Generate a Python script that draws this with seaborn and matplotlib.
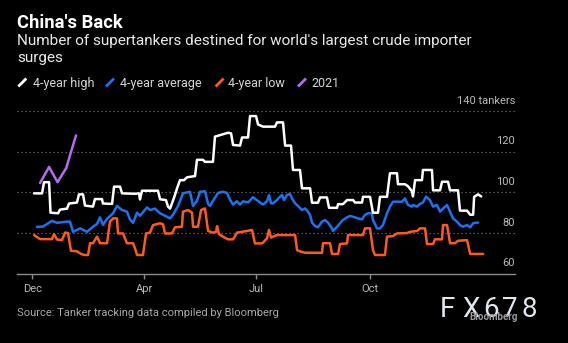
import numpy as np
import pandas as pd
import matplotlib
matplotlib.use("Agg")
import matplotlib.pyplot as plt
import seaborn as sns
from matplotlib.lines import Line2D
from matplotlib import transforms

# ---------------- data ----------------
title = "China's Back"
subtitle_lines = ["Number of supertankers destined for world's largest crude importer", "surges"]
source = "Source: Tanker tracking data compiled by Bloomberg"
series_names = ["4-year high", "4-year average", "4-year low", "2021"]
series_colors = ["#ffffff", "#1a72f2", "#ff5a1e", "#b36cf0"]
month_ticks = [0, 91, 182, 274]
month_labels = ["Dec", "Apr", "Jul", "Oct"]
y_ticks = [60, 80, 100, 120, 140]
y_unit = "tankers"

high_day = [1.4, 7.9, 9.5, 13.6, 14.8, 20.9, 22.5, 28.2, 29.8, 36.3, 37.9, 41.2, 42.8, 49.3, 50.9, 56.6,
            57.4, 64.8, 66.4, 71.3, 72.9, 83.4, 86.7, 87.5, 89.1, 102.1, 103.8, 108.6, 110.2, 111.9, 113.5,
            115.9, 117.6, 120.0, 123.3, 125.7, 132.2, 133.8, 138.7, 140.3, 146.8, 148.4, 159.0, 161.5, 163.1,
            168.8, 170.4, 175.3, 176.9, 181.8, 183.4, 187.5, 197.2, 198.8, 203.7, 205.4, 210.2, 211.8, 217.5,
            219.1, 225.7, 227.3, 232.1, 233.8, 239.4, 241.1, 247.6, 248.4, 252.4, 255.7, 260.6, 262.2, 267.9,
            268.7, 274.4, 276.8, 280.9, 282.5, 288.2, 290.6, 296.3, 297.1, 302.8, 305.3, 308.5, 309.3, 311.0,
            316.6, 317.4, 324.7, 325.6, 331.3, 332.9, 337.8, 339.4, 345.9, 347.5, 353.2, 355.8, 358.2, 359.0,
            362.2, 364.7]
high_val = [99.5, 99.5, 105, 105, 90, 89.7, 91.5, 92, 94.5, 95, 99, 99, 93.5, 93, 96.7, 96.7,
            94.5, 94.3, 102.8, 102.8, 99.5, 99.3, 99.5, 96.5, 100.8, 100.8, 96.6, 96.2, 93, 92, 94.6,
            98.7, 102, 106, 106, 107.4, 108, 116, 116, 115, 115, 127.4, 129.3, 129, 123.3,
            123, 127, 127, 137.5, 137.5, 133.4, 132.3, 132.3, 134.4, 134.4, 123, 123, 111, 111,
            102, 102, 94.9, 94.9, 97.5, 97.5, 92.4, 92.4, 94.2, 94.2, 96.2, 96.2, 95, 95,
            97.8, 97.8, 90, 90, 97.8, 97.8, 109.4, 109.4, 104, 104, 103, 100.5, 98, 106,
            106, 111, 111, 101, 101, 105.2, 105.2, 101, 101, 91, 91, 89, 89, 97.8,
            99, 98]

avg_day = [3.8, 8.7, 16.0, 20.1, 28.2, 30.6, 33.1, 38.8, 44.4, 49.3, 52.6, 55.0, 57.4, 60.7, 65.6, 68.8,
           72.9, 76.9, 79.4, 81.8, 85.1, 87.5, 93.2, 95.6, 99.7, 103.8, 109.4, 111.9, 114.3, 118.4, 122.4,
           128.1, 130.6, 133.8, 136.3, 140.3, 142.8, 144.4, 146.8, 150.9, 154.9, 158.2, 160.6, 163.1, 166.3,
           168.8, 171.2, 175.3, 179.3, 185.0, 187.5, 190.7, 192.3, 194.0, 195.6, 198.8, 201.3, 202.9, 204.5,
           207.0, 209.4, 211.0, 213.5, 215.9, 219.1, 221.6, 224.0, 225.7, 227.3, 229.7, 232.1, 235.4, 237.8,
           240.3, 243.5, 244.3, 247.6, 250.0, 252.4, 255.7, 258.1, 262.2, 264.6, 267.9, 270.3, 272.7, 276.0,
           276.8, 280.0, 282.5, 284.9, 288.2, 290.6, 293.1, 296.3, 300.4, 302.8, 305.3, 308.5, 309.3, 312.6,
           315.0, 317.4, 319.9, 323.1, 325.6, 328.8, 331.3, 333.7, 337.0, 339.4, 341.8, 345.1, 347.5, 349.9,
           353.2, 355.8, 358.2, 360.6, 362.2]
avg_val = [83, 83.2, 86, 85, 85.6, 85.6, 80.6, 82.3, 80.6, 83.1, 84.5, 87.7, 84, 87, 89.7, 93.3,
           91.3, 90.5, 86.6, 85, 90, 88.5, 92.6, 91.3, 92, 89.7, 88, 87.2, 89, 93.3, 99.5,
           100.3, 93.3, 95.8, 100.3, 100.5, 94.4, 93.3, 95.8, 99.7, 100.3, 99.7, 96.4, 94, 95.6,
           94, 95.6, 95, 97.6, 95, 94, 95.6, 98.7, 94.6, 94.6, 96.2, 97.9, 98.7, 96.2,
           98.7, 99.2, 97, 94.6, 93.3, 91.3, 92.1, 90.5, 88.9, 85.1, 83.4, 82.8, 85.6, 86.4,
           85.1, 82.3, 81, 83.1, 84.8, 86.4, 87.7, 88.4, 87.7, 87.2, 86.7, 88.9, 89.7, 89.7,
           86.4, 82.3, 82.3, 84, 89.7, 93, 95.4, 95.4, 95.4, 97, 93.8, 93, 93.8, 93,
           94.3, 95, 97.9, 96.2, 93, 93.8, 90.5, 92, 93.8, 90.5, 87.2, 85.6, 83.9, 83.1,
           83.9, 82.8, 84.8, 85.1, 85.1]

low_day = [1.4, 3.8, 6.3, 16.0, 17.6, 20.1, 24.1, 26.6, 29.0, 31.4, 36.3, 38.8, 42.0, 45.3, 46.9, 49.3,
           52.6, 55.0, 60.7, 63.1, 65.6, 68.8, 69.6, 73.7, 76.9, 81.8, 83.4, 85.1, 89.9, 92.4, 95.6,
           98.1, 103.8, 106.2, 107.8, 113.5, 115.9, 121.6, 122.4, 126.5, 129.8, 130.6, 134.6, 137.1, 140.3,
           142.8, 146.8, 149.3, 150.1, 151.7, 154.9, 159.0, 163.1, 166.3, 174.4, 178.5, 180.9, 186.6, 187.5,
           190.7, 192.3, 194.0, 195.6, 198.8, 213.5, 215.1, 217.5, 221.6, 235.4, 236.2, 241.9, 243.5, 248.4,
           250.0, 255.7, 256.5, 268.7, 270.3, 274.4, 276.8, 278.4, 286.5, 288.2, 293.1, 296.3, 304.5, 306.9,
           312.6, 315.0, 319.1, 320.7, 325.6, 327.2, 332.9, 333.7, 337.0, 339.4, 343.5, 345.9, 353.2, 355.8,
           366.3]
low_val = [79, 78, 77, 77, 79.5, 76.8, 76.5, 80.2, 80, 71.3, 71, 70, 69.2, 69.2, 75, 75,
           78.2, 75, 75, 85.6, 87.2, 87.2, 79.8, 79.8, 75, 75, 72.5, 69.2, 69.2, 79.8, 80.2,
           83.9, 84.8, 84.3, 79.8, 79.8, 82.8, 83.1, 90.5, 91.3, 90, 83.1, 83.1, 91.3, 92.1,
           81, 80.2, 80.5, 83.4, 79.5, 78.2, 76.9, 76.9, 80.2, 81, 81.5, 74.9, 74.9, 75.3,
           77.4, 81.5, 77.8, 78.2, 79, 79, 71.6, 71, 70.3, 70.3, 75, 75, 69.7, 69.7,
           74.6, 74.9, 79, 79, 82.3, 82.3, 71.6, 69.2, 69.2, 78.2, 78.5, 79.8, 80, 80.6,
           81, 82.3, 82.3, 74.6, 74.6, 76.9, 76.9, 83.9, 83.9, 75, 75, 76.2, 76.5, 69.7,
           69.7]

y2021_day = [6.3, 13.6, 20.5, 27.6, 31.0, 35.5]
y2021_val = [104.6, 112.5, 105, 112, 119, 128]

# ---------------- build table ----------------
frames = []
for name, d, v in zip(series_names,
                      [high_day, avg_day, low_day, y2021_day],
                      [high_val, avg_val, low_val, y2021_val]):
    frames.append(pd.DataFrame({"day": d, "tankers": v, "series": name}))
df = pd.concat(frames, ignore_index=True)

# ---------------- style ----------------
sns.set_theme(style="white")
plt.rcParams["font.family"] = ["Roboto", "DejaVu Sans"]

W, H = 568, 343
fig = plt.figure(figsize=(W / 100, H / 100), dpi=100)
fig.patch.set_facecolor("black")


def fx(px):
    return px / W


def fy(py):
    return 1 - py / H


ax = fig.add_axes([fx(17.3), fy(273.7), fx(515 - 17.3), (273.7 - 98.8) / H])
ax.set_facecolor("black")

for v in y_ticks[1:]:
    ax.axhline(v, color="#6e6e6e", lw=0.9, ls=(0, (1, 2.2)), zorder=1)

order = ["4-year low", "4-year average", "4-year high", "2021"]
sns.lineplot(data=df, x="day", y="tankers", hue="series", hue_order=order,
             palette=dict(zip(series_names, series_colors)),
             estimator=None, sort=False, legend=False, linewidth=1.8, ax=ax, zorder=3)

ax.set_xlim(-12.2, 392.2)
ax.set_ylim(60, 146)
ax.set_xlabel("")
ax.set_ylabel("")
ax.set_yticks([])
ax.set_xticks(month_ticks)
ax.set_xticklabels(month_labels)
ax.tick_params(axis="x", which="both", bottom=True, direction="out", length=3.5, width=1,
               color="#8a8a8a", labelcolor="#b8b8b8", labelsize=8, pad=4)
for s in ["top", "left", "right"]:
    ax.spines[s].set_visible(False)
ax.spines["bottom"].set_color("#8a8a8a")
ax.spines["bottom"].set_linewidth(1)

trans = transforms.blended_transform_factory(ax.transAxes, ax.transData)
trans = transforms.offset_copy(trans, fig=fig, y=7.5, units="dots")
for v in y_ticks:
    lab = f"{v} {y_unit}" if v == y_ticks[-1] else str(v)
    ax.text(1.0, v, lab, transform=trans, ha="right", va="baseline",
            fontsize=8, color="#b8b8b8")

# ---------------- titles ----------------
fig.text(fx(17.4), fy(28.3), title, fontsize=13.2, fontweight="bold", color="white", va="baseline")
fig.text(fx(17.4), fy(45), subtitle_lines[0], fontsize=11, color="#e8e8e8", va="baseline")
fig.text(fx(17.4), fy(62), subtitle_lines[1], fontsize=11, color="#e8e8e8", va="baseline")

# ---------------- legend ----------------
slash_x = [18.3, 106, 215.6, 298]
text_x = [32.7, 120, 228.3, 311.6]
for name, col, sx, tx in zip(series_names, series_colors, slash_x, text_x):
    fig.add_artist(Line2D([fx(sx), fx(sx + 8)], [fy(86.5), fy(78.5)], color=col, lw=2,
                          solid_capstyle="butt", transform=fig.transFigure))
    fig.text(fx(tx), fy(86.7), name, fontsize=9, color="#d4d4d4", va="baseline")

# ---------------- source ----------------
fig.text(fx(17.4), fy(315.5), source, fontsize=8, color="#a8a8a8", va="baseline")

# ---------------- watermark ----------------
for ch, cx in zip("FX678", [447.8, 471, 490.8, 509.7, 529.2]):
    fig.text(fx(cx), fy(316.7), ch, fontsize=20, fontweight="normal", color="#dfe7ef",
             ha="center", va="baseline", zorder=1)
fig.text(fx(493.5), fy(320.5), "Bloomberg", fontsize=7, fontweight="bold", color="#9a9a9a",
         ha="center", va="baseline", zorder=2)

fig.savefig("out.png", dpi=100, facecolor="black")
